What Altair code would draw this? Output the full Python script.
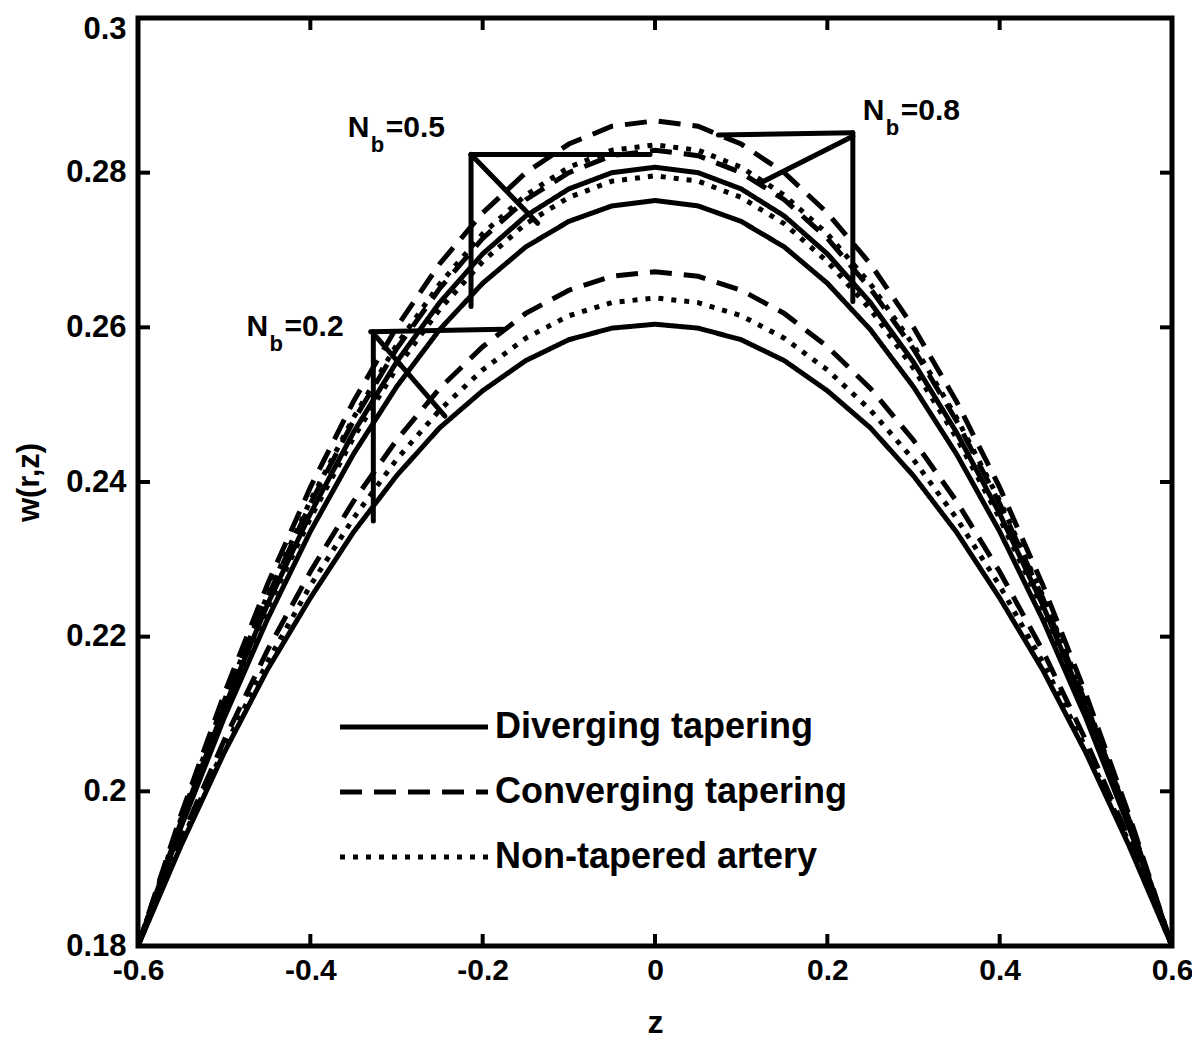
import altair as alt
import pandas as pd

# ---------------- data ----------------
z = [-0.60, -0.55, -0.50, -0.45, -0.40, -0.35, -0.30, -0.25, -0.20, -0.15, -0.10, -0.05, 0.00,
     0.05, 0.10, 0.15, 0.20, 0.25, 0.30, 0.35, 0.40, 0.45, 0.50, 0.55, 0.60]

div_02 = [0.1800, 0.1930, 0.2050, 0.2157, 0.2250, 0.2335, 0.2408, 0.2470, 0.2518, 0.2557, 0.2584, 0.2599, 0.2604,
          0.2599, 0.2584, 0.2557, 0.2518, 0.2470, 0.2408, 0.2335, 0.2250, 0.2157, 0.2050, 0.1930, 0.1800]
non_02 = [0.1800, 0.1934, 0.2056, 0.2167, 0.2266, 0.2353, 0.2429, 0.2493, 0.2545, 0.2586, 0.2615, 0.2632, 0.2638,
          0.2632, 0.2615, 0.2586, 0.2545, 0.2493, 0.2429, 0.2353, 0.2266, 0.2167, 0.2056, 0.1934, 0.1800]
conv_02 = [0.1800, 0.1939, 0.2066, 0.2182, 0.2284, 0.2375, 0.2454, 0.2521, 0.2575, 0.2618, 0.2648, 0.2666, 0.2672,
           0.2666, 0.2648, 0.2618, 0.2575, 0.2521, 0.2454, 0.2375, 0.2284, 0.2182, 0.2066, 0.1939, 0.1800]
div_05 = [0.1800, 0.1954, 0.2095, 0.2222, 0.2336, 0.2436, 0.2523, 0.2597, 0.2657, 0.2704, 0.2737, 0.2757, 0.2764,
          0.2757, 0.2737, 0.2704, 0.2657, 0.2597, 0.2523, 0.2436, 0.2336, 0.2222, 0.2095, 0.1954, 0.1800]
non_05 = [0.1800, 0.1959, 0.2104, 0.2236, 0.2353, 0.2457, 0.2547, 0.2623, 0.2685, 0.2734, 0.2768, 0.2789, 0.2796,
          0.2789, 0.2768, 0.2734, 0.2685, 0.2623, 0.2547, 0.2457, 0.2353, 0.2236, 0.2104, 0.1959, 0.1800]
conv_05 = [0.1800, 0.1964, 0.2114, 0.2250, 0.2372, 0.2479, 0.2572, 0.2650, 0.2715, 0.2765, 0.2800, 0.2822, 0.2829,
           0.2822, 0.2800, 0.2765, 0.2715, 0.2650, 0.2572, 0.2479, 0.2372, 0.2250, 0.2114, 0.1964, 0.1800]
div_08 = [0.1800, 0.1961, 0.2108, 0.2241, 0.2359, 0.2464, 0.2555, 0.2632, 0.2695, 0.2744, 0.2779, 0.2800, 0.2807,
          0.2800, 0.2779, 0.2744, 0.2695, 0.2632, 0.2555, 0.2464, 0.2359, 0.2241, 0.2108, 0.1961, 0.1800]
non_08 = [0.1800, 0.1965, 0.2117, 0.2253, 0.2376, 0.2483, 0.2577, 0.2656, 0.2721, 0.2771, 0.2807, 0.2829, 0.2836,
          0.2829, 0.2807, 0.2771, 0.2721, 0.2656, 0.2577, 0.2483, 0.2376, 0.2253, 0.2117, 0.1965, 0.1800]
conv_08 = [0.1800, 0.1970, 0.2126, 0.2267, 0.2393, 0.2504, 0.2600, 0.2682, 0.2748, 0.2800, 0.2837, 0.2860, 0.2867,
           0.2860, 0.2837, 0.2800, 0.2748, 0.2682, 0.2600, 0.2504, 0.2393, 0.2267, 0.2126, 0.1970, 0.1800]

tapering = ["Diverging tapering", "Converging tapering", "Non-tapered artery"]
series = [
    ("0.2", tapering[0], div_02), ("0.2", tapering[2], non_02), ("0.2", tapering[1], conv_02),
    ("0.5", tapering[0], div_05), ("0.5", tapering[2], non_05), ("0.5", tapering[1], conv_05),
    ("0.8", tapering[0], div_08), ("0.8", tapering[2], non_08), ("0.8", tapering[1], conv_08),
]

# annotation pointer segments (data coordinates)
ann_seg = ["h05", "h05", "v05", "v05", "d05", "d05",
           "h08", "h08", "v08", "v08", "d08", "d08",
           "h02", "h02", "v02", "v02", "d02", "d02"]
ann_z = [-0.2135, -0.0058, -0.2135, -0.2135, -0.2135, -0.1362,
         0.0735, 0.2296, 0.2296, 0.2296, 0.2296, 0.1215,
         -0.3300, -0.1766, -0.3269, -0.3269, -0.3269, -0.2438]
ann_w = [0.28236, 0.28236, 0.28236, 0.26271, 0.28236, 0.27346,
         0.28486, 0.28516, 0.28516, 0.26335, 0.28470, 0.27862,
         0.25942, 0.25974, 0.25942, 0.23497, 0.25923, 0.24852]
ann_pt = [0, 1] * 9

label_value = ["=0.2", "=0.5", "=0.8"]
label_z = [-0.4742, -0.3565, 0.2411]
label_w = [0.25884, 0.28465, 0.28684]

xtick_vals = [-0.6, -0.4, -0.2, 0.0, 0.2, 0.4, 0.6]
ytick_vals = [0.18, 0.20, 0.22, 0.24, 0.26, 0.28, 0.30]

# ---------------- tables ----------------
rows = []
for nb, tp, vals in series:
    for zi, wi in zip(z, vals):
        rows.append({"z": zi, "w": wi, "Nb": nb, "type": tp})
df = pd.DataFrame(rows)

ann_df = pd.DataFrame({"z": ann_z, "w": ann_w, "seg": ann_seg, "pt": ann_pt})
lab_df = pd.DataFrame({"z": label_z, "w": label_w, "txt": label_value})
xt_df = pd.DataFrame({"z": xtick_vals})
yt_df = pd.DataFrame({"w": ytick_vals})

W, H = 1034, 928
FONT = "Liberation Sans"
LBL = "replace(format(datum.value, '~g'), '\u2212', '-')"

xs = alt.Scale(domain=[-0.6, 0.6], nice=False, zero=False)
ys = alt.Scale(domain=[0.18, 0.30], nice=False, zero=False)

xaxis = alt.Axis(values=xtick_vals, ticks=False, domain=False, grid=False,
                 labelFont=FONT, labelFontSize=30, labelFontWeight="bold", labelColor="black",
                 labelPadding=9, labelFlush=False, labelOverlap=False, labelBound=False,
                 labelExpr=LBL,
                 title="z", titleFont=FONT, titleFontSize=32, titleFontWeight="bold",
                 titleColor="black", titlePadding=22)
yaxis = alt.Axis(values=ytick_vals, ticks=False, domain=False, grid=False,
                 labelFont=FONT, labelFontSize=31, labelFontWeight="bold", labelColor="black",
                 labelPadding=12, labelFlush=False, labelOverlap=False, labelBound=False,
                 labelOffset={"condition": {"test": "datum.value > 0.295", "value": 11}, "value": 0},
                 labelExpr=LBL,
                 title="w(r,z)", titleFont=FONT, titleFontSize=31, titleFontWeight="bold",
                 titleColor="black", titlePadding=20)

X = alt.X("z:Q", scale=xs, axis=xaxis)
Y = alt.Y("w:Q", scale=ys, axis=yaxis)

curves = alt.Chart(df).mark_line(clip=True, color="black", strokeWidth=5).encode(
    x=X, y=Y,
    detail="Nb:N",
    strokeDash=alt.StrokeDash(
        "type:N",
        scale=alt.Scale(domain=tapering, range=[[1, 0], [22, 12], [5, 8]]),
        sort=tapering,
        legend=alt.Legend(orient="none", legendX=255, legendY=688, title=None,
                          symbolType="M-4,0L4,0", symbolSize=1369, symbolStrokeWidth=5,
                          symbolStrokeColor="black", symbolFillColor="transparent",
                          labelFont=FONT, labelFontSize=36,
                          labelFontWeight="bold", labelColor="black", labelOffset=60,
                          rowPadding=26, padding=0, labelLimit=600),
    ),
    order="z:Q",
)

ann = alt.Chart(ann_df).mark_line(color="black", strokeWidth=5, strokeCap="round").encode(
    x=X, y=Y, detail="seg:N", order="pt:Q"
)

txt_N = alt.Chart(lab_df).mark_text(text="N", align="left", baseline="alphabetic",
                                    font=FONT, fontSize=30, fontWeight="bold", color="black").encode(x=X, y=Y)
txt_b = alt.Chart(lab_df).mark_text(text="b", align="left", baseline="alphabetic", dx=23, dy=15,
                                    font=FONT, fontSize=22, fontWeight="bold", color="black").encode(x=X, y=Y)
txt_v = alt.Chart(lab_df).mark_text(align="left", baseline="alphabetic", dx=38,
                                    font=FONT, fontSize=30, fontWeight="bold", color="black").encode(
    x=X, y=Y, text="txt:N")

TL = 12
ytick_l = alt.Chart(yt_df).mark_rule(color="black", strokeWidth=4).encode(
    y=Y, x=alt.value(0), x2=alt.value(TL))
ytick_r = alt.Chart(yt_df).mark_rule(color="black", strokeWidth=4).encode(
    y=Y, x=alt.value(W - TL), x2=alt.value(W))
xtick_b = alt.Chart(xt_df).mark_rule(color="black", strokeWidth=4).encode(
    x=X, y=alt.value(H - TL), y2=alt.value(H))
xtick_t = alt.Chart(xt_df).mark_rule(color="black", strokeWidth=4).encode(
    x=X, y=alt.value(0), y2=alt.value(TL))

chart = alt.layer(curves, ann, txt_N, txt_b, txt_v, ytick_l, ytick_r, xtick_b, xtick_t).properties(
    width=W, height=H,
    autosize=alt.AutoSizeParams(type="none"),
    padding={"left": 130, "top": 10, "right": 20, "bottom": 94},
    background="white",
).configure_view(stroke="black", strokeWidth=5)

chart.save("out.html", embed_options={"renderer": "svg", "actions": False})
